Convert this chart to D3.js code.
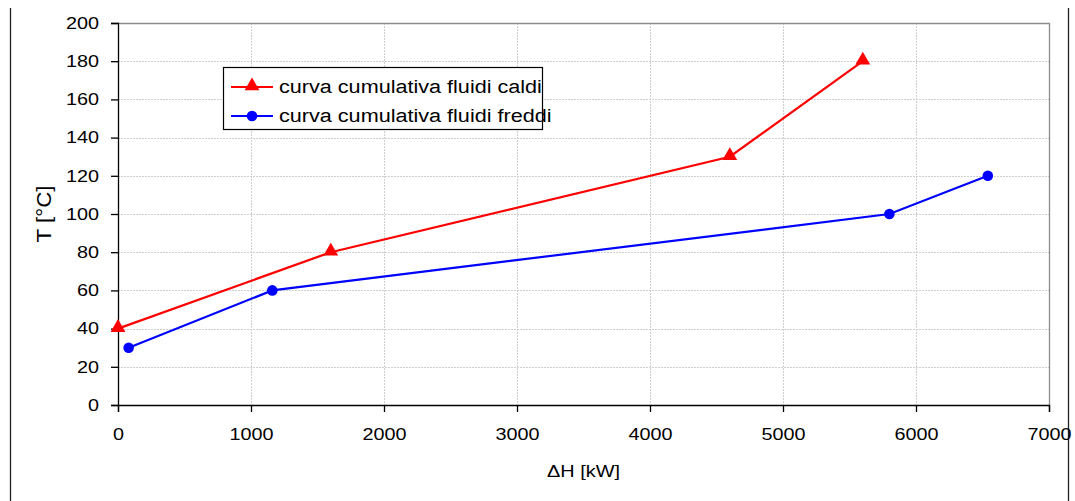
<!DOCTYPE html>
<html>
<head>
<meta charset="utf-8">
<script src="https://cdn.jsdelivr.net/npm/d3@7"></script>
<style>
  html, body { margin: 0; padding: 0; background: #fff; }
  svg { display: block; font-family: "Liberation Sans", Arial, sans-serif; }
</style>
</head>
<body>
<svg id="chart" width="1075" height="501"></svg>
<script>
// Composite curves: cumulative enthalpy vs temperature
const hotH = [0, 1600, 4600, 5600];
const hotT = [40, 80, 130, 180];
const coldH = [80, 1160, 5800, 6540];
const coldT = [30, 60, 100, 120];
const xTicks = [0, 1000, 2000, 3000, 4000, 5000, 6000, 7000];
const yTicks = [0, 20, 40, 60, 80, 100, 120, 140, 160, 180, 200];
const seriesNames = ["curva cumulativa fluidi caldi", "curva cumulativa fluidi freddi"];

const svg = d3.select("#chart");
const plot = { left: 118, right: 1049, top: 23, bottom: 405 };

const x = d3.scaleLinear().domain([0, 7000]).range([plot.left, plot.right]);
const y = d3.scaleLinear().domain([0, 200]).range([plot.bottom, plot.top]);

// widen text glyphs horizontally by a factor
function widen(sel, k) {
  sel.each(function () {
    const w = this.getComputedTextLength();
    d3.select(this).attr("textLength", w * k).attr("lengthAdjust", "spacingAndGlyphs");
  });
}

// outer frame sides
svg.append("line").attr("x1", 10.5).attr("x2", 10.5).attr("y1", 8).attr("y2", 501)
  .attr("stroke", "#222").attr("stroke-width", 1.3);
svg.append("line").attr("x1", 1068.5).attr("x2", 1068.5).attr("y1", 8).attr("y2", 501)
  .attr("stroke", "#222").attr("stroke-width", 1.3);

// grid
const grid = svg.append("g");
yTicks.filter(d => d > 0 && d < 200).forEach(d => {
  grid.append("line").attr("x1", plot.left).attr("x2", plot.right)
    .attr("y1", Math.round(y(d)) + 0.5).attr("y2", Math.round(y(d)) + 0.5)
    .attr("stroke", "#cfcfcf").attr("stroke-width", 1).attr("stroke-dasharray", "2,1");
});
xTicks.filter(d => d > 0 && d < 7000).forEach(d => {
  grid.append("line").attr("y1", plot.top).attr("y2", plot.bottom)
    .attr("x1", Math.round(x(d)) + 0.5).attr("x2", Math.round(x(d)) + 0.5)
    .attr("stroke", "#cfcfcf").attr("stroke-width", 1).attr("stroke-dasharray", "2,1");
});
// plot-area top and right edges
svg.append("path")
  .attr("d", `M${plot.left},${plot.top + 0.5}H${plot.right + 0.5}V${plot.bottom}`)
  .attr("fill", "none").attr("stroke", "#8c8c8c").attr("stroke-width", 1.3);

// axes
const yAxis = svg.append("g").attr("transform", `translate(${plot.left},0)`)
  .call(d3.axisLeft(y).tickValues(yTicks).tickSize(7).tickPadding(12).tickFormat(d3.format("d")));
const xAxis = svg.append("g").attr("transform", `translate(0,${plot.bottom})`)
  .call(d3.axisBottom(x).tickValues(xTicks).tickSize(7).tickPadding(16).tickFormat(d3.format("d")));
[yAxis, xAxis].forEach(a => {
  a.select(".domain").attr("stroke", "#000").attr("stroke-width", 1.3);
  a.selectAll(".tick line").attr("stroke", "#000").attr("stroke-width", 1.3);
  a.selectAll(".tick text").attr("fill", "#000").style("font-size", "16.5px")
    .style("font-family", "'Liberation Sans', Arial, sans-serif");
  widen(a.selectAll(".tick text"), 1.2);
});

// axis titles
svg.append("text").attr("x", x(3500)).attr("y", 477).attr("text-anchor", "middle")
  .style("font-size", "17px").text("ΔH [kW]").call(widen, 1.17);
svg.append("text").attr("transform", `translate(51,${y(100)}) rotate(-90)`)
  .attr("text-anchor", "middle").style("font-size", "20px").text("T [°C]").call(widen, 1.12);

const line = d3.line().x(d => x(d[0])).y(d => y(d[1]));
const hot = hotH.map((h, i) => [h, hotT[i]]);
const cold = coldH.map((h, i) => [h, coldT[i]]);

const tri = d3.symbol().type(d3.symbolTriangle).size(95);

svg.append("path").datum(hot).attr("d", line).attr("fill", "none")
  .attr("stroke", "#ff0000").attr("stroke-width", 2.2);
svg.append("g").selectAll("path").data(hot).join("path")
  .attr("d", tri).attr("fill", "#ff0000")
  .attr("transform", d => `translate(${x(d[0])},${y(d[1]) - 1})`);

svg.append("path").datum(cold).attr("d", line).attr("fill", "none")
  .attr("stroke", "#0000ff").attr("stroke-width", 2.2);
svg.append("g").selectAll("circle").data(cold).join("circle")
  .attr("cx", d => x(d[0])).attr("cy", d => y(d[1])).attr("r", 5.3).attr("fill", "#0000ff");

// legend
const lg = svg.append("g");
lg.append("rect").attr("x", 223.5).attr("y", 67.5).attr("width", 319).attr("height", 62)
  .attr("fill", "#fff").attr("stroke", "#000").attr("stroke-width", 1.2);
const rows = [
  { name: seriesNames[0], color: "#ff0000", type: "tri", yy: 87 },
  { name: seriesNames[1], color: "#0000ff", type: "circle", yy: 116 }
];
rows.forEach(r => {
  lg.append("line").attr("x1", 231).attr("x2", 273).attr("y1", r.yy).attr("y2", r.yy)
    .attr("stroke", r.color).attr("stroke-width", 2.2);
  if (r.type === "tri") {
    lg.append("path").attr("d", tri).attr("fill", r.color)
      .attr("transform", `translate(252,${r.yy - 1})`);
  } else {
    lg.append("circle").attr("cx", 252).attr("cy", r.yy).attr("r", 5.3).attr("fill", r.color);
  }
  lg.append("text").attr("x", 279).attr("y", r.yy).attr("dy", "0.35em")
    .style("font-size", "18px").text(r.name).call(widen, 1.2);
});
</script>
</body>
</html>
